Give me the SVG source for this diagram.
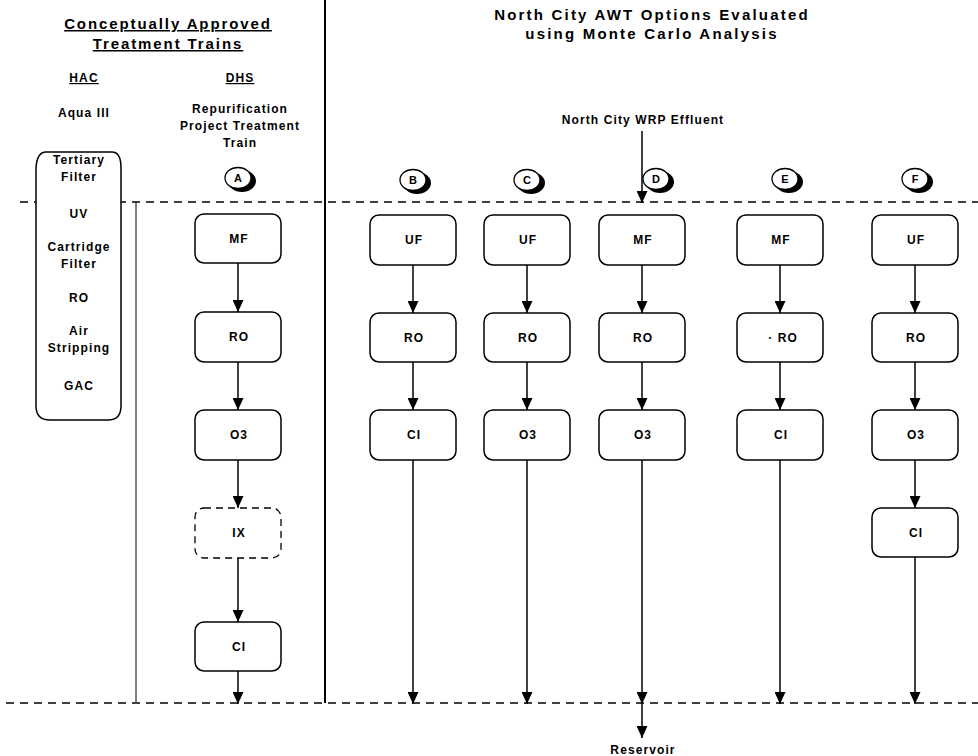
<svg xmlns="http://www.w3.org/2000/svg" width="978" height="756" viewBox="0 0 978 756">
<defs>
<style>
text{font-family:"Liberation Sans",Arial,sans-serif;font-weight:bold;fill:#000;text-anchor:middle}
.t{font-size:12px;letter-spacing:1.1px}
.h{font-size:15px;letter-spacing:2.2px}
.hl{font-size:15px;letter-spacing:1.9px}
.c{font-size:11px}
.box{fill:#fff;stroke:#000;stroke-width:1.5}
.dash{fill:#fff;stroke:#000;stroke-width:1.3;stroke-dasharray:7,5}
.ln{stroke:#000;stroke-width:1.5;fill:none}
.dl{stroke:#000;stroke-width:1.3;stroke-dasharray:8,6;fill:none}
</style>
<marker id="ar" markerWidth="12" markerHeight="11" refX="12" refY="5.5" orient="auto" markerUnits="userSpaceOnUse" viewBox="0 0 12 11">
<path d="M0,0 L12,5.5 L0,11 Z" fill="#000"/>
</marker>
</defs>
<rect width="978" height="756" fill="#fff"/>

<g id="frame">
<line class="ln" x1="325" y1="0" x2="325" y2="703" style="stroke-width:2"/>
<line class="ln" x1="136" y1="202" x2="136" y2="702" style="stroke-width:1"/>
<line class="dl" x1="20" y1="202" x2="978" y2="202"/>
<line class="dl" x1="6" y1="703" x2="978" y2="703"/>
</g>

<g id="titles">
<text class="hl" x="168" y="29" text-decoration="underline">Conceptually Approved</text>
<text class="hl" x="168" y="49" text-decoration="underline">Treatment Trains</text>
<text class="t" x="84" y="82" text-decoration="underline">HAC</text>
<text class="t" x="240" y="82" text-decoration="underline">DHS</text>
<text class="t" x="84" y="117">Aqua III</text>
<text class="t" x="240" y="113">Repurification</text>
<text class="t" x="240" y="130">Project Treatment</text>
<text class="t" x="240" y="147">Train</text>
<text class="h" x="652" y="20">North City AWT Options Evaluated</text>
<text class="h" x="652" y="39">using Monte Carlo Analysis</text>
<text class="t" x="643" y="124">North City WRP Effluent</text>
<text class="t" x="643" y="754">Reservoir</text>
</g>

<g id="hac">
<path class="box" d="M46,152 H112 Q121,152 121,168 L121,406 Q121,420 108,420 H50 Q36,420 36,406 L36,168 Q37,152 46,152 Z"/>
<text class="t" x="79" y="164">Tertiary</text>
<text class="t" x="79" y="181">Filter</text>
<text class="t" x="79" y="218">UV</text>
<text class="t" x="79" y="251">Cartridge</text>
<text class="t" x="79" y="268">Filter</text>
<text class="t" x="79" y="302">RO</text>
<text class="t" x="79" y="335">Air</text>
<text class="t" x="79" y="352">Stripping</text>
<text class="t" x="79" y="390">GAC</text>
</g>

<g id="labels">
<g id="lA"><ellipse cx="242" cy="181" rx="14" ry="11"/><ellipse cx="238" cy="178" rx="13" ry="10.5" fill="#fff" stroke="#000" stroke-width="1.3"/><text class="c" x="238" y="182">A</text></g>
<g id="lB"><ellipse cx="417" cy="183" rx="14" ry="11"/><ellipse cx="413" cy="180" rx="13" ry="10.5" fill="#fff" stroke="#000" stroke-width="1.3"/><text class="c" x="413" y="184">B</text></g>
<g id="lC"><ellipse cx="531" cy="183" rx="14" ry="11"/><ellipse cx="527" cy="180" rx="13" ry="10.5" fill="#fff" stroke="#000" stroke-width="1.3"/><text class="c" x="527" y="184">C</text></g>
<g id="lD"><ellipse cx="660" cy="182" rx="14" ry="11"/><ellipse cx="656" cy="179" rx="13" ry="10.5" fill="#fff" stroke="#000" stroke-width="1.3"/><text class="c" x="656" y="183">D</text></g>
<g id="lE"><ellipse cx="789" cy="182" rx="14" ry="11"/><ellipse cx="785" cy="179" rx="13" ry="10.5" fill="#fff" stroke="#000" stroke-width="1.3"/><text class="c" x="785" y="183">E</text></g>
<g id="lF"><ellipse cx="919" cy="182" rx="14" ry="11"/><ellipse cx="915" cy="179" rx="13" ry="10.5" fill="#fff" stroke="#000" stroke-width="1.3"/><text class="c" x="915" y="183">F</text></g>
</g>

<g id="connectors">
<line class="ln" x1="642" y1="131" x2="642" y2="203" marker-end="url(#ar)"/>
<line class="ln" x1="238" y1="263" x2="238" y2="312" marker-end="url(#ar)"/>
<line class="ln" x1="238" y1="362" x2="238" y2="410" marker-end="url(#ar)"/>
<line class="ln" x1="238" y1="460" x2="238" y2="508" marker-end="url(#ar)"/>
<line class="ln" x1="238" y1="558" x2="238" y2="622" marker-end="url(#ar)"/>
<line class="ln" x1="238" y1="671" x2="238" y2="704" marker-end="url(#ar)"/>
<line class="ln" x1="413" y1="265" x2="413" y2="313" marker-end="url(#ar)"/>
<line class="ln" x1="413" y1="362" x2="413" y2="410" marker-end="url(#ar)"/>
<line class="ln" x1="413" y1="460" x2="413" y2="704" marker-end="url(#ar)"/>
<line class="ln" x1="527" y1="265" x2="527" y2="313" marker-end="url(#ar)"/>
<line class="ln" x1="527" y1="362" x2="527" y2="410" marker-end="url(#ar)"/>
<line class="ln" x1="527" y1="460" x2="527" y2="704" marker-end="url(#ar)"/>
<line class="ln" x1="642" y1="265" x2="642" y2="313" marker-end="url(#ar)"/>
<line class="ln" x1="642" y1="362" x2="642" y2="410" marker-end="url(#ar)"/>
<line class="ln" x1="642" y1="460" x2="642" y2="704" marker-end="url(#ar)"/>
<line class="ln" x1="642" y1="704" x2="642" y2="738" marker-end="url(#ar)"/>
<line class="ln" x1="780" y1="265" x2="780" y2="313" marker-end="url(#ar)"/>
<line class="ln" x1="780" y1="362" x2="780" y2="410" marker-end="url(#ar)"/>
<line class="ln" x1="780" y1="460" x2="780" y2="704" marker-end="url(#ar)"/>
<line class="ln" x1="915" y1="265" x2="915" y2="313" marker-end="url(#ar)"/>
<line class="ln" x1="915" y1="362" x2="915" y2="410" marker-end="url(#ar)"/>
<line class="ln" x1="915" y1="460" x2="915" y2="508" marker-end="url(#ar)"/>
<line class="ln" x1="915" y1="557" x2="915" y2="704" marker-end="url(#ar)"/>
</g>

<g id="colA">
<g id="A-MF"><rect class="box" x="195" y="214" width="86" height="49" rx="9"/><text class="t" x="239" y="243">MF</text></g>
<g id="A-RO"><rect class="box" x="195" y="312" width="86" height="50" rx="9"/><text class="t" x="239" y="341">RO</text></g>
<g id="A-O3"><rect class="box" x="195" y="410" width="86" height="50" rx="9"/><text class="t" x="239" y="439">O3</text></g>
<g id="A-IX"><rect class="dash" x="195" y="508" width="86" height="50" rx="9"/><text class="t" x="239" y="537">IX</text></g>
<g id="A-CI"><rect class="box" x="195" y="622" width="86" height="49" rx="9"/><text class="t" x="239" y="651">CI</text></g>
</g>
<g id="colB">
<g id="B-UF"><rect class="box" x="370" y="215" width="86" height="50" rx="9"/><text class="t" x="414" y="244">UF</text></g>
<g id="B-RO"><rect class="box" x="370" y="313" width="86" height="49" rx="9"/><text class="t" x="414" y="342">RO</text></g>
<g id="B-CI"><rect class="box" x="370" y="410" width="86" height="50" rx="9"/><text class="t" x="414" y="439">CI</text></g>
</g>
<g id="colC">
<g id="C-UF"><rect class="box" x="484" y="215" width="86" height="50" rx="9"/><text class="t" x="528" y="244">UF</text></g>
<g id="C-RO"><rect class="box" x="484" y="313" width="86" height="49" rx="9"/><text class="t" x="528" y="342">RO</text></g>
<g id="C-O3"><rect class="box" x="484" y="410" width="86" height="50" rx="9"/><text class="t" x="528" y="439">O3</text></g>
</g>
<g id="colD">
<g id="D-MF"><rect class="box" x="599" y="215" width="86" height="50" rx="9"/><text class="t" x="643" y="244">MF</text></g>
<g id="D-RO"><rect class="box" x="599" y="313" width="86" height="49" rx="9"/><text class="t" x="643" y="342">RO</text></g>
<g id="D-O3"><rect class="box" x="599" y="410" width="86" height="50" rx="9"/><text class="t" x="643" y="439">O3</text></g>
</g>
<g id="colE">
<g id="E-MF"><rect class="box" x="737" y="215" width="86" height="50" rx="9"/><text class="t" x="781" y="244">MF</text></g>
<g id="E-RO"><rect class="box" x="737" y="313" width="86" height="49" rx="9"/><text class="t" x="783" y="342">· RO</text></g>
<g id="E-CI"><rect class="box" x="737" y="410" width="86" height="50" rx="9"/><text class="t" x="781" y="439">CI</text></g>
</g>
<g id="colF">
<g id="F-UF"><rect class="box" x="872" y="215" width="86" height="50" rx="9"/><text class="t" x="916" y="244">UF</text></g>
<g id="F-RO"><rect class="box" x="872" y="313" width="86" height="49" rx="9"/><text class="t" x="916" y="342">RO</text></g>
<g id="F-O3"><rect class="box" x="872" y="410" width="86" height="50" rx="9"/><text class="t" x="916" y="439">O3</text></g>
<g id="F-CI"><rect class="box" x="872" y="508" width="86" height="49" rx="9"/><text class="t" x="916" y="537">CI</text></g>
</g>
</svg>
